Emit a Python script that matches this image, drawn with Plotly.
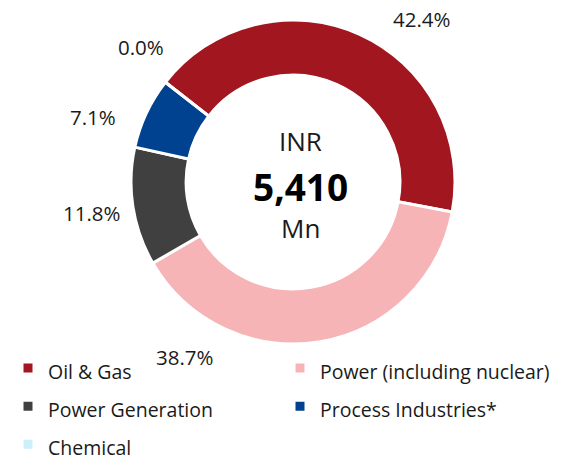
import plotly.graph_objects as go

categories = ["Oil & Gas", "Power (including nuclear)", "Power Generation",
              "Process Industries*", "Chemical"]
shares = [42.4, 38.7, 11.8, 7.1, 0.0]
colors = ["#A1161F", "#F6B4B6", "#404040", "#00428F", "#CDEFFB"]
total_label = "5,410"

# label anchor positions (window pixels from top-left), one per category
label_pos = [(422, 19), (185, 357), (92, 213), (93, 117), (141, 47)]

W, H = 576, 458
OFF = 8  # the page body adds an 8px margin around the figure
FONT = "Open Sans, Noto Sans, sans-serif"


def px2paper(x, y):
    return (x - OFF) / W, 1 - (y - OFF) / H


fig = go.Figure()
x0, y1 = px2paper(131, 20)
x1, y0 = px2paper(455, 344)
fig.add_trace(go.Pie(
    labels=[f"<span style='font-size:19.5px'>{c}</span>" for c in categories],
    values=shares,
    hole=0.66,
    sort=False,
    direction="clockwise",
    rotation=-52,
    marker=dict(colors=colors, line=dict(color="white", width=3)),
    textinfo="none",
    hoverinfo="label+percent",
    domain=dict(x=[x0, x1], y=[y0, y1]),
))

ann = []
for v, (px, py) in zip(shares, label_pos):
    ax, ay = px2paper(px, py)
    ann.append(dict(x=ax, y=ay, xref="paper", yref="paper",
                    text=f"{v:.1f}%", showarrow=False,
                    font=dict(size=20.5, color="#1a1a1a", family=FONT),
                    xanchor="center", yanchor="middle"))
for txt, py, size, col in [("INR", 141, 26, "#1a1a1a"),
                           (f"<b>{total_label}</b>", 186, 37, "#000000"),
                           ("Mn", 228, 26, "#1a1a1a")]:
    ax, ay = px2paper(300, py)
    ann.append(dict(x=ax, y=ay, xref="paper", yref="paper", text=txt,
                    showarrow=False, font=dict(size=size, color=col, family=FONT),
                    xanchor="center", yanchor="middle"))

_, leg_y = px2paper(0, 344)
fig.update_layout(
    width=W, height=H,
    margin=dict(l=0, r=0, t=0, b=0, autoexpand=False),
    paper_bgcolor="white",
    font=dict(family=FONT, color="#1a1a1a"),
    showlegend=True,
    legend=dict(orientation="h", x=0, xanchor="left",
                y=leg_y, yanchor="top",
                entrywidth=227, font=dict(size=27, family=FONT, color="#1a1a1a"),
                bgcolor="rgba(0,0,0,0)", itemclick=False),
    annotations=ann,
)

fig.write_html("out.html")
